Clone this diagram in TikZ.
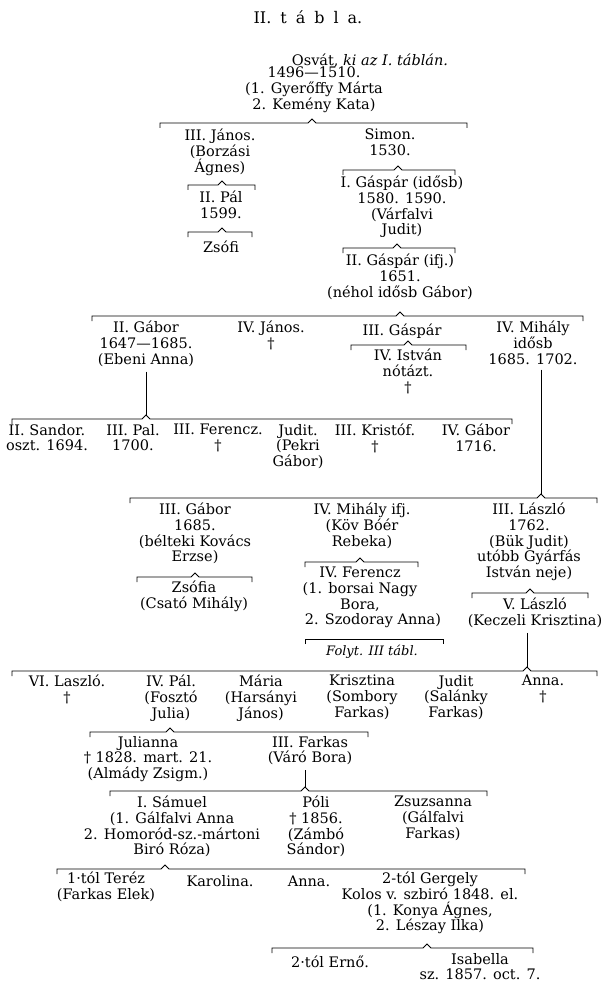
\documentclass[tikz,border=0pt]{standalone}
\usepackage{fontspec}
\setmainfont{DejaVu Serif}
\usetikzlibrary{positioning, calc}

% one sibling bar: name, left x, right x, y, x of the caret
\newcommand\kinbar[5]{%
  \coordinate (#1-l) at (#2,#4);
  \coordinate (#1-r) at (#3,#4);
  \coordinate (#1-c) at (#5,#4);
  \draw[kin] ([yshift=-5pt]#1-l) -- (#1-l) -- ([xshift=-4pt]#1-c) -- ([yshift=4pt]#1-c)
    -- ([xshift=4pt]#1-c) -- (#1-r) -- ([yshift=-5pt]#1-r);}

\begin{document}
\begin{tikzpicture}[x=1pt, y=-1pt]
  % the coordinate of a person is the baseline of the first line
  \tikzstyle{person}=[align=center, inner sep=0pt, anchor=north, yshift=14pt,
    execute at begin node={\rule{0pt}{14pt}},
    font={\fontsize{14.5}{15.7}\selectfont\lineskiplimit=-20pt}]
  \tikzstyle{kin}=[line width=0.9pt, line join=miter]
  \useasboundingbox (0,0) rectangle (612,995);

  % Title
  \node[anchor=base, inner sep=0pt, font=\fontsize{16}{18}\selectfont] (title) at (308,24)
    {\spaceskip=9pt II. t á b l a.};

  % Osvat
  \node[person] (osvat0) at (370,65) {Osvát, \textit{ki az I. táblán.}};
  \node[person] (osvat) at (314,81) {1496—1510.\\(1. Gyerőffy Márta\\2. Kemény Kata)};
  \kinbar{k1}{160}{467}{123}{312}

  % Janos, Simon
  \node[person] (janos3) at (220,143) {III. János.\\(Borzási\\Ágnes)};
  \node[person] (simon) at (390,143) {Simon.\\1530.};
  \kinbar{k2}{188}{255}{185}{222}
  \node[person] (pal2) at (221,205) {II. Pál\\1599.};
  \kinbar{k3}{188}{252}{232}{222}
  \node[person] (zsofi) at (221,252) {Zsófi};
  \kinbar{k4}{343}{455}{170}{398}
  \node[person] (gaspar1) at (402,190) {I. Gáspár (idősb)\\1580. 1590.\\(Várfalvi\\Judit)};
  \kinbar{k5}{343}{455}{248}{397}
  \node[person] (gaspar2) at (400,268) {II. Gáspár (ifj.)\\1651.\\(néhol idősb Gábor)};
  \kinbar{k6}{92}{583}{316}{400}

  % Gaspar's children
  \node[person] (gabor2) at (146,335) {II. Gábor\\1647—1685.\\(Ebeni Anna)};
  \node[person] (janos4) at (271,335) {IV. János.\\†};
  \node[person] (gaspar3) at (402,335) {III. Gáspár};
  \node[person] (mihaly4) at (533,335) {IV. Mihály\\idősb\\1685. 1702.};
  \kinbar{k7}{351}{466}{345}{408}
  \node[person] (istvan4) at (408,363) {IV. István\\nótázt.\\†};

  % Gabor's children
  \kinbar{k8}{12}{512}{419}{146}
  \draw[kin] ($(gabor2.south)+(0,5)$) -- ([yshift=4pt]k8-c);
  \foreach \name/\x/\txt in {sandor2/47/{II. Sandor.\\oszt. 1694.}, pal3/133/{III. Pal.\\1700.},
      ferenc3/218/{III. Ferencz.\\†}, judit1/298/{Judit.\\(Pekri\\Gábor)},
      kristof3/375/{III. Kristóf.\\†}, gabor4/476/{IV. Gábor\\1716.}}
    \node[person] (\name) at (\x,438) {\txt};

  % Mihaly's children
  \kinbar{k9}{130}{597}{498}{541}
  \draw[kin] ($(mihaly4.south -| k9-c)+(0,5)$) -- ([yshift=4pt]k9-c);
  \node[person] (gabor3) at (195,517) {III. Gábor\\1685.\\(bélteki Kovács\\Erzse)};
  \node[person] (mihaly4j) at (362,517) {IV. Mihály ifj.\\(Köv Bóér\\Rebeka)};
  \node[person] (laszlo3) at (529,517) {III. László\\1762.\\(Bük Judit)\\utóbb Gyárfás\\István neje)};
  \kinbar{k10}{137}{252}{577}{195}
  \node[person] (zsofia) at (194,595) {Zsófia\\(Csató Mihály)};
  \kinbar{k11}{305}{418}{562}{360}
  \node[person] (ferenc4) at (360,581) {IV. Ferencz\\(1. borsai Nagy\\Bora,\\\hspace*{26pt}2. Szodoray Anna)};
  \coordinate (k12-l) at (305,639);
  \coordinate (k12-r) at (443,639);
  \draw[kin] ([yshift=-5pt]k12-l) -- (k12-l) -- (k12-r) -- ([yshift=-5pt]k12-r);
  \node[person, font={\fontsize{13}{15}\selectfont}] (folyt) at (372,655) {\textit{Folyt. III tábl.}};
  \kinbar{k13}{472}{588}{593}{530}
  \node[person] (laszlo5) at (535,612) {V. László\\(Keczeli Krisztina)};

  % Laszlo's children
  \kinbar{k14}{12}{597}{671}{527}
  \draw[kin] ($(laszlo5.south -| k14-c)+(0,5)$) -- ([yshift=4pt]k14-c);
  \foreach \name/\x/\txt in {laszlo6/67/{VI. Laszló.\\†}, pal4/171/{IV. Pál.\\(Fosztó\\Julia)},
      maria/261/{Mária\\(Harsányi\\János)}, krisztina/362/{Krisztina\\(Sombory\\Farkas)},
      judit2/456/{Judit\\(Salánky\\Farkas)}, anna1/543/{Anna.\\†}}
    \node[person] (\name) at (\x,689) {\txt};

  % Pal's children
  \kinbar{k15}{90}{368}{732}{170}
  \node[person] (julianna) at (148,750) {Julianna\\† 1828. mart. 21.\\(Almády Zsigm.)};
  \node[person] (farkas3) at (310,750) {III. Farkas\\(Váró Bora)};

  % Farkas's children
  \kinbar{k16}{110}{487}{791}{305}
  \draw[kin] ($(farkas3.south -| k16-c)+(0,5)$) -- ([yshift=4pt]k16-c);
  \node[person] (samuel1) at (172,810) {I. Sámuel\\(1. Gálfalvi Anna\\2. Homoród-sz.-mártoni\\Biró Róza)};
  \node[person] (poli) at (316,810) {Póli\\† 1856.\\(Zámbó\\Sándor)};
  \node[person] (zsuzsanna) at (433,810) {Zsuzsanna\\(Gálfalvi\\Farkas)};

  % Samuel's children
  \kinbar{k17}{57}{525}{869}{165}
  \node[person] (terez) at (106,886) {1·tól Teréz\\(Farkas Elek)};
  \node[person] (karolina) at (220,886) {Karolina.};
  \node[person] (anna2) at (309,886) {Anna.};
  \node[person] (gergely) at (430,886) {2-tól Gergely\\Kolos v. szbiró 1848. el.\\(1. Konya Ágnes,\\2. Lészay Ilka)};

  % Gergely's children
  \kinbar{k18}{272}{533}{948}{427}
  \node[person] (erno) at (330,967) {2·tól Ernő.};
  \node[person] (isabella) at (480,967) {Isabella\\sz. 1857. oct. 7.};
\end{tikzpicture}
\end{document}
